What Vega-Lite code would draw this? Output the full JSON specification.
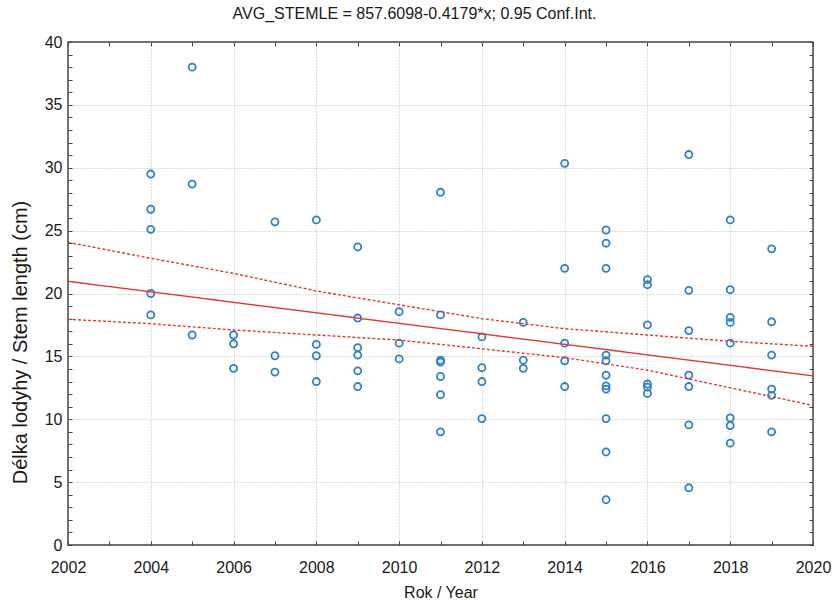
{
  "$schema": "https://vega.github.io/schema/vega-lite/v6.json",
  "width": 745,
  "height": 503,
  "autosize": {"type": "none"},
  "padding": {"left": 68, "top": 42, "right": 23, "bottom": 55},
  "background": "white",
  "config": {
    "font": "Liberation Sans",
    "view": {"stroke": "#444", "strokeWidth": 1.5},
    "axis": {"labelFont": "Liberation Sans", "titleFont": "Liberation Sans", "labelColor": "#1a1a1a", "titleColor": "#1a1a1a", "titleFontWeight": "normal", "labelFlush": false}
  },
  "title": {"text": "AVG_STEMLE = 857.6098-0.4179*x; 0.95 Conf.Int.", "fontSize": 16, "fontWeight": "normal", "color": "#1a1a1a", "anchor": "middle", "dx": -26, "offset": 12},
  "resolve": {"axis": {"x": "independent", "y": "independent"}},
  "datasets": {
    "pts": [
      {"year": 2004, "len": 29.5}, {"year": 2004, "len": 26.7}, {"year": 2004, "len": 25.1}, {"year": 2004, "len": 20.0}, {"year": 2004, "len": 18.3},
      {"year": 2005, "len": 38.0}, {"year": 2005, "len": 28.7}, {"year": 2005, "len": 16.7},
      {"year": 2006, "len": 16.7}, {"year": 2006, "len": 16.0}, {"year": 2006, "len": 14.05},
      {"year": 2007, "len": 25.7}, {"year": 2007, "len": 15.05}, {"year": 2007, "len": 13.75},
      {"year": 2008, "len": 25.85}, {"year": 2008, "len": 15.95}, {"year": 2008, "len": 15.05}, {"year": 2008, "len": 13.0},
      {"year": 2009, "len": 23.7}, {"year": 2009, "len": 18.05}, {"year": 2009, "len": 15.7}, {"year": 2009, "len": 15.1}, {"year": 2009, "len": 13.85}, {"year": 2009, "len": 12.6},
      {"year": 2010, "len": 18.55}, {"year": 2010, "len": 16.05}, {"year": 2010, "len": 14.8},
      {"year": 2011, "len": 28.05}, {"year": 2011, "len": 18.3}, {"year": 2011, "len": 14.7}, {"year": 2011, "len": 14.55}, {"year": 2011, "len": 13.4}, {"year": 2011, "len": 11.95}, {"year": 2011, "len": 9.0},
      {"year": 2012, "len": 16.55}, {"year": 2012, "len": 14.1}, {"year": 2012, "len": 13.0}, {"year": 2012, "len": 10.05},
      {"year": 2013, "len": 17.7}, {"year": 2013, "len": 14.7}, {"year": 2013, "len": 14.05},
      {"year": 2014, "len": 30.35}, {"year": 2014, "len": 22.0}, {"year": 2014, "len": 16.05}, {"year": 2014, "len": 14.65}, {"year": 2014, "len": 12.6},
      {"year": 2015, "len": 25.05}, {"year": 2015, "len": 24.0}, {"year": 2015, "len": 22.0}, {"year": 2015, "len": 15.1}, {"year": 2015, "len": 14.65}, {"year": 2015, "len": 13.5}, {"year": 2015, "len": 12.65}, {"year": 2015, "len": 12.4}, {"year": 2015, "len": 10.05}, {"year": 2015, "len": 7.4}, {"year": 2015, "len": 3.6},
      {"year": 2016, "len": 21.1}, {"year": 2016, "len": 20.7}, {"year": 2016, "len": 17.5}, {"year": 2016, "len": 12.8}, {"year": 2016, "len": 12.55}, {"year": 2016, "len": 12.05},
      {"year": 2017, "len": 31.05}, {"year": 2017, "len": 20.25}, {"year": 2017, "len": 17.05}, {"year": 2017, "len": 13.5}, {"year": 2017, "len": 12.6}, {"year": 2017, "len": 9.55}, {"year": 2017, "len": 4.55},
      {"year": 2018, "len": 25.85}, {"year": 2018, "len": 20.3}, {"year": 2018, "len": 18.1}, {"year": 2018, "len": 17.7}, {"year": 2018, "len": 16.05}, {"year": 2018, "len": 10.1}, {"year": 2018, "len": 9.5}, {"year": 2018, "len": 8.1},
      {"year": 2019, "len": 23.55}, {"year": 2019, "len": 17.75}, {"year": 2019, "len": 15.1}, {"year": 2019, "len": 12.4}, {"year": 2019, "len": 11.9}, {"year": 2019, "len": 9.0}
    ],
    "lines": [
      {"kind": "fit", "year": 2002, "value": 20.97}, {"kind": "fit", "year": 2020, "value": 13.45},
      {"kind": "hi", "year": 2002, "value": 24.07}, {"kind": "hi", "year": 2004, "value": 22.8}, {"kind": "hi", "year": 2006, "value": 21.6}, {"kind": "hi", "year": 2008, "value": 20.2}, {"kind": "hi", "year": 2010, "value": 19.1}, {"kind": "hi", "year": 2012, "value": 18.0}, {"kind": "hi", "year": 2014, "value": 17.2}, {"kind": "hi", "year": 2016, "value": 16.7}, {"kind": "hi", "year": 2018, "value": 16.2}, {"kind": "hi", "year": 2020, "value": 15.8},
      {"kind": "lo", "year": 2002, "value": 17.95}, {"kind": "lo", "year": 2004, "value": 17.6}, {"kind": "lo", "year": 2006, "value": 17.1}, {"kind": "lo", "year": 2008, "value": 16.7}, {"kind": "lo", "year": 2010, "value": 16.3}, {"kind": "lo", "year": 2012, "value": 15.6}, {"kind": "lo", "year": 2014, "value": 14.9}, {"kind": "lo", "year": 2016, "value": 13.9}, {"kind": "lo", "year": 2018, "value": 12.5}, {"kind": "lo", "year": 2020, "value": 11.1}
    ]
  },
  "layer": [
    {
      "data": {"name": "pts"},
      "mark": {"type": "point", "shape": "circle", "filled": false, "stroke": "#3080c8", "strokeWidth": 1.8, "size": 50, "opacity": 1},
      "encoding": {
        "x": {"field": "year", "type": "quantitative", "scale": {"domain": [2002, 2020], "nice": false, "zero": false},
          "axis": {"orient": "bottom", "values": [2002,2003,2004,2005,2006,2007,2008,2009,2010,2011,2012,2013,2014,2015,2016,2017,2018,2019,2020], "format": "d",
            "labelExpr": "datum.value % 2 == 0 ? datum.label : ''", "labelFontSize": 16, "labelPadding": 18,
            "grid": true, "gridColor": "#b8b8b8", "gridDash": [1, 2], "gridWidth": 1,
            "gridOpacity": {"condition": {"test": "datum.value % 2 == 0 && datum.value > 2002 && datum.value < 2020", "value": 1}, "value": 0},
            "domain": false, "tickSize": -4, "tickColor": "#444",
            "title": "Rok / Year", "titleFontSize": 16, "titlePadding": 9}},
        "y": {"field": "len", "type": "quantitative", "scale": {"domain": [0, 40], "nice": false},
          "axis": {"orient": "left", "values": [0,1,2,3,4,5,6,7,8,9,10,11,12,13,14,15,16,17,18,19,20,21,22,23,24,25,26,27,28,29,30,31,32,33,34,35,36,37,38,39,40],
            "labelExpr": "datum.value % 5 == 0 ? datum.label : ''", "labelFontSize": 16, "labelPadding": 10,
            "grid": true, "gridColor": "#b8b8b8", "gridDash": [1, 2], "gridWidth": 1,
            "gridOpacity": {"condition": {"test": "datum.value % 5 == 0 && datum.value > 0 && datum.value < 40", "value": 1}, "value": 0},
            "domain": false, "tickSize": -4, "tickColor": "#444",
            "title": "Délka lodyhy / Stem length (cm)", "titleFontSize": 20, "titlePadding": 14, "titleY": 300}}
      }
    },
    {
      "data": {"name": "lines"},
      "mark": {"type": "line", "color": "#e03a32", "strokeWidth": 1.4},
      "encoding": {
        "x": {"field": "year", "type": "quantitative",
          "axis": {"orient": "top", "values": [2002,2003,2004,2005,2006,2007,2008,2009,2010,2011,2012,2013,2014,2015,2016,2017,2018,2019,2020], "labels": false, "grid": false, "domain": false, "tickSize": -4, "tickColor": "#444", "title": null}},
        "y": {"field": "value", "type": "quantitative",
          "axis": {"orient": "right", "values": [0,1,2,3,4,5,6,7,8,9,10,11,12,13,14,15,16,17,18,19,20,21,22,23,24,25,26,27,28,29,30,31,32,33,34,35,36,37,38,39,40], "labels": false, "grid": false, "domain": false, "tickSize": -4, "tickColor": "#444", "title": null}},
        "detail": {"field": "kind"},
        "strokeDash": {"field": "kind", "type": "nominal", "scale": {"domain": ["fit", "hi", "lo"], "range": [[1, 0], [3, 2], [3, 2]]}, "legend": null}
      }
    }
  ]
}
